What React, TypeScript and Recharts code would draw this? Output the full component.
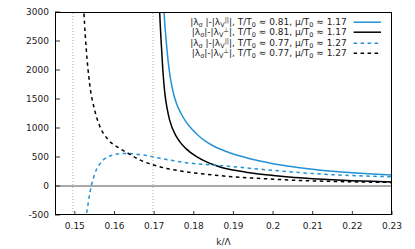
import React from 'react';
import { LineChart, Line, XAxis, YAxis, ReferenceLine, CartesianGrid } from 'recharts';

const FONT = '"DejaVu Sans", sans-serif';
const BLUE = '#2392d6';
const INK = '#000000';

const W = 415;
const H = 249;
const PLOT = { left: 55, top: 12, right: 392, bottom: 215 };

const xTicks = [0.15, 0.16, 0.17, 0.18, 0.19, 0.2, 0.21, 0.22, 0.23];
const yTicks = [-500, 0, 500, 1000, 1500, 2000, 2500, 3000];
const xDomain: [number, number] = [0.145, 0.23];
const yDomain: [number, number] = [-500, 3000];
const poleLines = [0.1495, 0.1697];

// |λσ|-|λV∥|, T/T0 ≈ 0.81
const parallelHot: [number, number][] = [
  [0.1721, 3600], [0.1725, 3000], [0.1731, 2460], [0.1739, 1950], [0.1747, 1650],
  [0.1756, 1430], [0.1768, 1250], [0.1781, 1100], [0.1798, 960], [0.1815, 850],
  [0.183, 770], [0.185, 690], [0.188, 600], [0.191, 530], [0.1937, 480], [0.197, 425],
  [0.2, 385], [0.204, 340], [0.21, 290], [0.215, 255], [0.22, 228], [0.225, 207], [0.23, 190],
];
// |λσ|-|λV⊥|, T/T0 ≈ 0.81
const perpHot: [number, number][] = [
  [0.1711, 3600], [0.1714, 3000], [0.1718, 2460], [0.1722, 2000], [0.1727, 1600],
  [0.1733, 1330], [0.1739, 1140], [0.1756, 855], [0.1764, 770], [0.1781, 640],
  [0.1807, 505], [0.1832, 415], [0.1848, 370], [0.187, 320], [0.19, 275], [0.195, 220],
  [0.2, 182], [0.204, 157], [0.21, 127], [0.215, 107], [0.22, 92], [0.225, 80], [0.23, 70],
];
// |λσ|-|λV∥|, T/T0 ≈ 0.77
const parallelCool: [number, number][] = [
  [0.1524, -700], [0.1529, -500], [0.1535, -240], [0.1542, 17], [0.1548, 160],
  [0.1554, 276], [0.1562, 370], [0.1571, 445], [0.1583, 500], [0.1596, 535],
  [0.1612, 556], [0.163, 562], [0.165, 552], [0.1672, 535], [0.1714, 478],
  [0.1764, 420], [0.1781, 402], [0.1848, 362], [0.19, 333], [0.195, 300],
  [0.2, 270], [0.205, 240], [0.21, 215], [0.215, 195], [0.22, 180], [0.225, 168], [0.23, 158],
];
// |λσ|-|λV⊥|, T/T0 ≈ 0.77
const perpCool: [number, number][] = [
  [0.1519, 3700], [0.1523, 3000], [0.1529, 2350], [0.1537, 1780], [0.155, 1310],
  [0.1563, 1030], [0.1584, 800], [0.1613, 650], [0.1634, 565], [0.1664, 450],
  [0.1697, 365], [0.173, 305], [0.1762, 264], [0.1848, 190], [0.1933, 143],
  [0.2, 118], [0.205, 100], [0.21, 88], [0.215, 79], [0.22, 72], [0.225, 66], [0.23, 62],
];

const toRows = (pts: [number, number][]) => pts.map(([k, v]) => ({ k, v }));

const Sub = ({ children }: { children: React.ReactNode }) => (
  <span style={{ fontSize: 6.5, verticalAlign: -2, lineHeight: 0 }}>{children}</span>
);
const Sup = ({ children }: { children: React.ReactNode }) => (
  <span style={{ fontSize: 6.5, verticalAlign: 3, lineHeight: 0 }}>{children}</span>
);

const label = (mode: 'par' | 'perp', t: string, mu: string) => (
  <>
    |λ<Sub>σ</Sub>{mode === 'par' ? ' ' : ''}|-|λ<Sub>V</Sub>
    <Sup>{mode === 'par' ? '||' : '⊥'}</Sup>|, T/T<Sub>0</Sub> ≈ {t}, μ/T<Sub>0</Sub> ≈ {mu}
  </>
);

const series = [
  { key: 'a', data: toRows(parallelHot), color: BLUE, dash: undefined, text: label('par', '0.81', '1.17') },
  { key: 'b', data: toRows(perpHot), color: INK, dash: undefined, text: label('perp', '0.81', '1.17') },
  { key: 'c', data: toRows(parallelCool), color: BLUE, dash: '3.5 3.5', text: label('par', '0.77', '1.27') },
  { key: 'd', data: toRows(perpCool), color: INK, dash: '3.5 3.5', text: label('perp', '0.77', '1.27') },
];

const tickStyle = { fontSize: 9, fontFamily: FONT, fill: '#222222' };
const tickLine = { stroke: '#333333' };

export default function App() {
  return (
    <div style={{ position: 'absolute', left: 0, top: 0, width: W, height: H, background: '#ffffff' }}>
      <LineChart
        width={W} height={H}
        margin={{ top: PLOT.top - 1, right: W - PLOT.right - 1, bottom: 0, left: 0 }}
      >
        <CartesianGrid xAxisId="b" yAxisId="l" horizontal={false} vertical={false} />
        <XAxis
          xAxisId="b" dataKey="k" type="number" domain={xDomain} ticks={xTicks} allowDataOverflow
          height={H - PLOT.bottom} tickSize={-4} tickMargin={12} tick={tickStyle}
          axisLine={false} tickLine={tickLine}
          label={{ value: 'k/Λ', position: 'insideBottom', offset: 4, fontSize: 9, fontFamily: FONT, fill: '#222222' }}
        />
        <XAxis
          xAxisId="t" orientation="top" dataKey="k" type="number" domain={xDomain} ticks={xTicks}
          allowDataOverflow height={1} tickSize={-4} tick={false} axisLine={false} tickLine={tickLine}
        />
        <YAxis
          yAxisId="l" type="number" domain={yDomain} ticks={yTicks} allowDataOverflow width={PLOT.left}
          tickSize={-5} tickMargin={11} tick={tickStyle} axisLine={false} tickLine={tickLine}
        />
        <YAxis
          yAxisId="r" orientation="right" type="number" domain={yDomain} ticks={yTicks} allowDataOverflow
          width={1} tickSize={-5} tick={false} axisLine={false} tickLine={tickLine}
        />
        {poleLines.map((x) => (
          <ReferenceLine key={x} x={x} xAxisId="b" yAxisId="l" stroke="#b0b0b0" strokeDasharray="1 2" />
        ))}
        <ReferenceLine y={0} xAxisId="b" yAxisId="l" stroke="#555555" />
        {series.map((s) => (
          <Line
            key={s.key} data={s.data} dataKey="v" xAxisId="b" yAxisId="l" type="monotone"
            stroke={s.color} strokeWidth={1.5} strokeDasharray={s.dash} dot={false}
            isAnimationActive={false}
          />
        ))}
      </LineChart>
      <div
        style={{
          position: 'absolute', left: PLOT.left, top: PLOT.top,
          width: PLOT.right - PLOT.left, height: PLOT.bottom - PLOT.top,
          boxSizing: 'border-box', border: '1px solid #000000', pointerEvents: 'none',
        }}
      />
      <div style={{ position: 'absolute', left: 180, top: 16.8, fontFamily: FONT, fontSize: 9, color: '#222222' }}>
        {series.map((s) => (
          <div key={s.key} style={{ display: 'flex', alignItems: 'center', height: 10.4 }}>
            <div style={{ width: 166.7, textAlign: 'right', whiteSpace: 'nowrap', lineHeight: '10.4px' }}>{s.text}</div>
            <svg width={34} height={10.4} style={{ display: 'block' }}>
              <line x1={6.6} x2={34} y1={5.2} y2={5.2} stroke={s.color} strokeWidth={1.5} strokeDasharray={s.dash} />
            </svg>
          </div>
        ))}
      </div>
    </div>
  );
}
